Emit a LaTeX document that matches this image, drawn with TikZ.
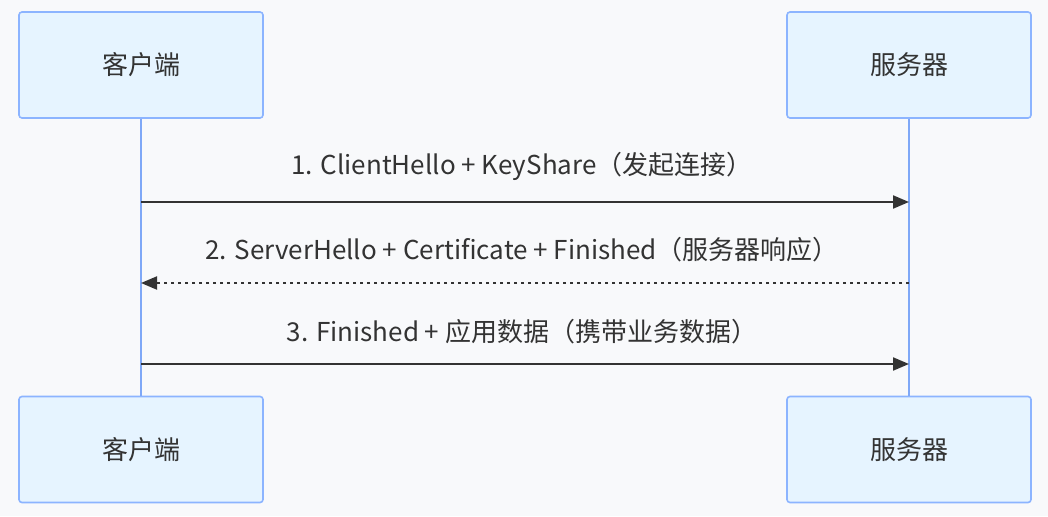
\documentclass[tikz,border=0pt]{standalone}
\usepackage{fontspec}
\setmainfont{Noto Sans CJK SC}
\usetikzlibrary{arrows.meta, positioning}
\definecolor{bgcol}{HTML}{F8F9FB}
\definecolor{boxfill}{HTML}{E6F4FF}
\definecolor{boxline}{HTML}{8CB4FF}
\definecolor{lifecol}{HTML}{7FA8F7}
\definecolor{txtcol}{HTML}{333333}
\tikzstyle{actor} = [draw=boxline, fill=boxfill, line width=1.6pt, rounded corners=3pt,
                     minimum width=244pt, minimum height=106pt, text=txtcol, font=\fontsize{26}{30}\selectfont]
\tikzstyle{lifeline} = [draw=lifecol, line width=2.6pt]
\tikzstyle{msg} = [draw=txtcol, line width=2pt, -{Triangle[length=16pt, width=13pt]}]
\tikzstyle{reply} = [msg, dash pattern=on 3.5pt off 3.5pt]
\tikzstyle{msglabel} = [text=txtcol, font=\fontsize{26}{30}\selectfont]

\begin{document}
\begin{tikzpicture}[x=1pt, y=-1pt]
				\fill [bgcol] (0, 0) rectangle (1048, 516);
				\useasboundingbox (0, 0) rectangle (1048, 516);

				% actors
				\node (ClientTop) [actor] at (141, 65) {客户端};
				\node (ServerTop) [actor] at (909, 65) {服务器};
				\node (ClientBot) [actor] at (141, 449.5) {客户端};
				\node (ServerBot) [actor] at (909, 449.5) {服务器};

				% lifelines
				\draw [lifeline] (ClientTop) -- (ClientBot);
				\draw [lifeline] (ServerTop) -- (ServerBot);

				% first message
				\coordinate (C1) at (141, 202);
				\coordinate (S1) at (909, 202);
				\draw [msg] (C1) -- (S1);
				\node (L1) [msglabel] at (522, 166) {1. ClientHello + KeyShare（发起连接）};

				% reply
				\coordinate (C2) at (141, 283);
				\coordinate (S2) at (909, 283);
				\draw [reply] (S2) -- (C2);
				\node (L2) [msglabel] at (522, 250) {2. ServerHello + Certificate + Finished（服务器响应）};

				% third message
				\coordinate (C3) at (141, 364);
				\coordinate (S3) at (909, 364);
				\draw [msg] (C3) -- (S3);
				\node (L3) [msglabel] at (522, 332) {3. Finished + 应用数据（携带业务数据）};
\end{tikzpicture}
\end{document}
